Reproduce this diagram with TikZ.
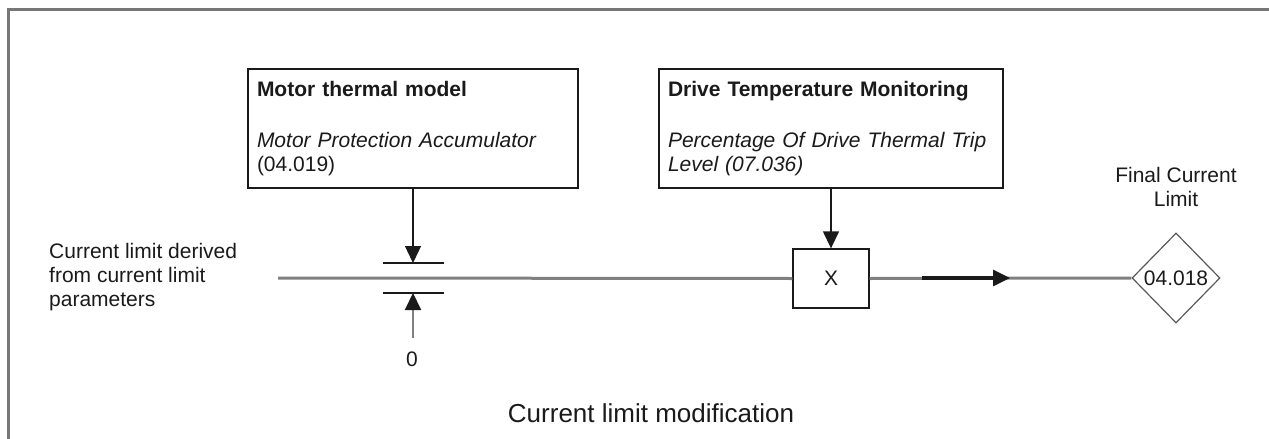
\documentclass[tikz,border=0pt]{standalone}
\usepackage{fontspec}
\setmainfont{Liberation Sans}
\usetikzlibrary{arrows.meta,shapes.geometric}
\definecolor{wiregrey}{HTML}{808080}
\definecolor{framegrey}{HTML}{777777}
\definecolor{ink}{HTML}{1A1A1A}
\begin{document}
\begin{tikzpicture}[x=1pt, y=-1pt,
  txt/.style={font=\fontsize{21}{24}\selectfont, text=ink, inner sep=0pt},
  infobox/.style={draw=ink, line width=1.3pt, txt, align=left, minimum height=119pt, inner xsep=9pt},
  mulbox/.style={draw=ink, line width=1.3pt, txt, minimum width=76pt, minimum height=59pt},
  parbox/.style={draw=black!65, line width=1.2pt, txt, shape=diamond, minimum width=88pt, minimum height=90pt},
  wire/.style={wiregrey, line width=3pt},
  feed/.style={ink, line width=1.3pt, -{Triangle[length=17pt, width=16pt]}},
  plate/.style={ink, line width=1.5pt}]
\useasboundingbox (0,0) rectangle (1269,439);
\draw[framegrey, line width=3pt] (8.5,439) -- (8.5,9) -- (1269,9);
\node[infobox, text width=312pt] (mtm) at (413,128.5) {\textbf{Motor thermal model}\\[27pt]\textit{Motor Protection Accumulator}\\(04.019)};
\node[infobox, text width=326pt] (dtm) at (831,128.5) {\textbf{Drive Temperature Monitoring}\\[27pt]\textit{Percentage Of Drive Thermal Trip}\\\textit{Level (07.036)}};
\node[txt, align=left, anchor=west] (src) at (49,277) {Current limit derived\\from current limit\\parameters};
\coordinate (in) at (278,278);
\coordinate (top) at (413,263);
\coordinate (bot) at (413,293);
\coordinate (zb) at (413,338);
\node[txt] (zero) at (412,359) {0};
\node[mulbox] (mul) at (831,278.5) {X};
\node[parbox] (lim) at (1176,278) {04.018};
\node[txt, align=center] (limtxt) at (1176,187) {Final Current\\Limit};
\coordinate (a1) at (922,278);
\coordinate (a2) at (1010,278);
\node[font=\fontsize{26}{30}\selectfont, text=ink, inner sep=0pt] (title) at (651,413) {Current limit modification};
\draw[wire] (in) -- (mul.west);
\draw[wire] (mul.east) -- (lim.west);
\draw[plate] ([xshift=-30.5pt]top) -- ([xshift=30.5pt]top);
\draw[plate] ([xshift=-30.5pt]bot) -- ([xshift=30.5pt]bot);
\draw[feed] (mtm.south) -- (top);
\draw[feed, wiregrey, line width=2pt, -{Triangle[length=17pt, width=16pt, color=ink]}] (zb) -- (bot);
\draw[feed] (dtm.south) -- (mul.north);
\draw[ink, line width=3.2pt, -{Triangle[length=17pt, width=16pt]}] (a1) -- (a2);
\end{tikzpicture}
\end{document}
